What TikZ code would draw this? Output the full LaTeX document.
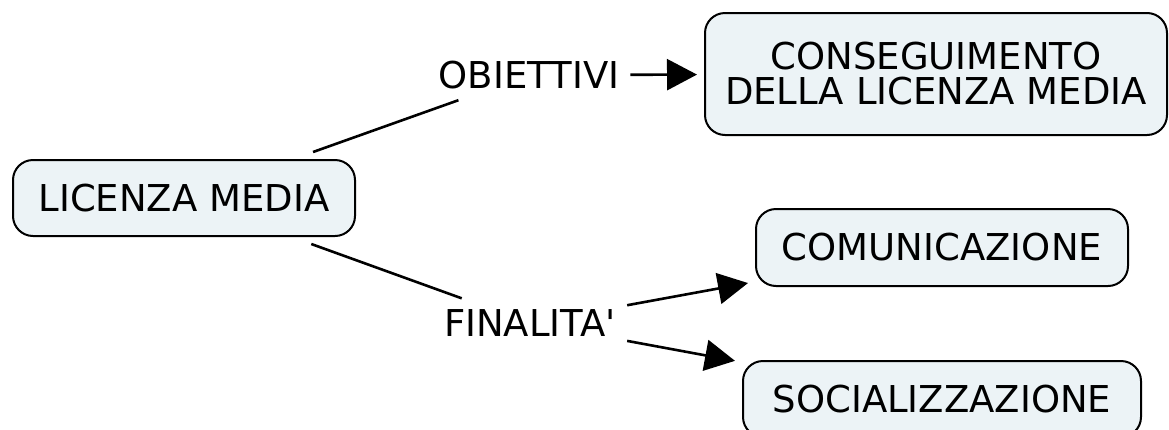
\documentclass[tikz,border=0pt]{standalone}
\usepackage{fontspec}
\setmainfont{DejaVu Sans}
\usetikzlibrary{arrows.meta}
\definecolor{conceptfill}{HTML}{ECF3F6}
\tikzset{
	concept/.style={draw,line width=2pt,rounded corners=20pt,fill=conceptfill,inner sep=0pt,outer sep=8pt,align=center},
	phrase/.style={inner sep=11pt},
	link/.style={line width=2.6pt},
	linkarrow/.style={line width=2.6pt,-{Triangle[length=30pt,width=31pt]}}
}
\begin{document}
\begin{tikzpicture}[x=1pt,y=-1pt,font=\fontsize{37}{35}\selectfont]
		\useasboundingbox (0,0) rectangle (1169,429);
		\node[concept,minimum width=342pt,minimum height=76pt] (licenza) at (184,198) {LICENZA MEDIA};
		\node[concept,minimum width=462pt,minimum height=122pt] (conseguimento) at (936,74) {CONSEGUIMENTO\\DELLA LICENZA MEDIA};
		\node[concept,minimum width=372pt,minimum height=77pt] (comunicazione) at (942,247.5) {COMUNICAZIONE};
		\node[concept,minimum width=398pt,minimum height=76pt] (socializzazione) at (942,399) {SOCIALIZZAZIONE};
		\node[phrase] (obiettivi) at (529,75) {OBIETTIVI};
		\node[phrase] (finalita) at (530,323) {FINALITA\textquotesingle};
		\draw[link] (licenza) -- (obiettivi);
		\draw[linkarrow] (obiettivi) -- (conseguimento);
		\draw[link] (licenza) -- (finalita);
		\draw[linkarrow] (finalita) -- (comunicazione);
		\draw[linkarrow] (finalita) -- (socializzazione);
	\end{tikzpicture}
\end{document}
